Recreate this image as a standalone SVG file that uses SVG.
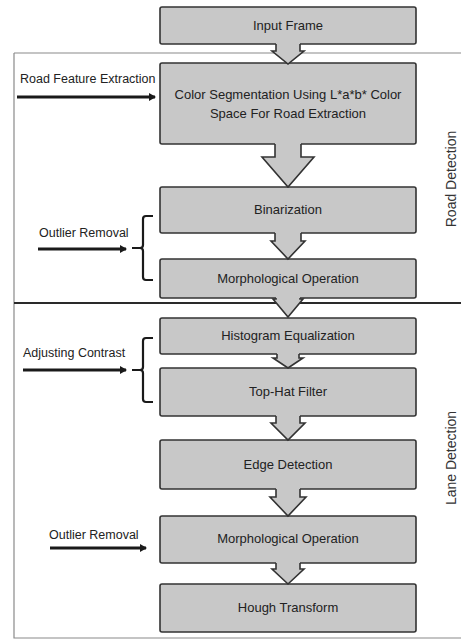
<svg xmlns="http://www.w3.org/2000/svg" width="461" height="639" viewBox="0 0 461 639">
<defs>
<marker id="ah" markerWidth="8" markerHeight="8" refX="6" refY="4" orient="auto" markerUnits="userSpaceOnUse">
<path d="M0,0 L7,4 L0,8 Z" fill="#1a1a1a"/>
</marker>
</defs>
<style>
.box{fill:#c8c8c8;stroke:#333;stroke-width:1.6}
.t{font-family:"Liberation Sans",Arial,sans-serif;font-size:13px;fill:#222;text-anchor:middle}
.lt{font-family:"Liberation Sans",Arial,sans-serif;font-size:12.5px;fill:#222}
.side{font-family:"Liberation Sans",Arial,sans-serif;font-size:14px;fill:#333;text-anchor:middle}
.arrowfill{fill:#c8c8c8;stroke:none}
.arrowline{fill:none;stroke:#333;stroke-width:1.6;stroke-linejoin:miter}
.inarrow{stroke:#1a1a1a;stroke-width:3;fill:none}
.brace{fill:none;stroke:#1a1a1a;stroke-width:2.2}
.frame{stroke:#8a8a8a;stroke-width:1.2;fill:none}
.divider{stroke:#2a2a2a;stroke-width:2.2}
</style>
<rect width="461" height="639" fill="#ffffff"/>
<g id="frame">
<path class="frame" d="M14,53 H461 M14,53 V638 H461"/>
<line class="divider" x1="14" y1="303" x2="461" y2="303"/>
</g>
<g id="n1"><rect class="box" x="160" y="7" width="256" height="37" rx="2"/><text class="t" x="288" y="30">Input Frame</text></g>
<g id="n2"><rect class="box" x="160" y="63" width="256" height="81" rx="2"/><text class="t" x="288" y="99">Color Segmentation Using L*a*b* Color</text><text class="t" x="288" y="118">Space For Road Extraction</text></g>
<g id="n3"><rect class="box" x="160" y="187" width="256" height="46" rx="2"/><text class="t" x="288" y="214">Binarization</text></g>
<g id="n4"><rect class="box" x="160" y="259" width="256" height="39" rx="2"/><text class="t" x="288" y="283">Morphological Operation</text></g>
<g id="n5"><rect class="box" x="160" y="318" width="256" height="36" rx="2"/><text class="t" x="288" y="340">Histogram Equalization</text></g>
<g id="n6"><rect class="box" x="160" y="368" width="256" height="48" rx="2"/><text class="t" x="288" y="396">Top-Hat Filter</text></g>
<g id="n7"><rect class="box" x="160" y="440" width="256" height="49" rx="2"/><text class="t" x="288" y="469">Edge Detection</text></g>
<g id="n8"><rect class="box" x="160" y="516" width="256" height="47" rx="2"/><text class="t" x="288" y="543">Morphological Operation</text></g>
<g id="n9"><rect class="box" x="160" y="584" width="256" height="48" rx="2"/><text class="t" x="288" y="612">Hough Transform</text></g>
<g id="connectors">
<path class="arrowfill" d="M276,43 V51 H272 L288,64 L304,51 H300 V43 Z"/>
<path class="arrowline" d="M276,44 V51 H272 L288,64 L304,51 H300 V44"/>
<path class="arrowfill" d="M275,143 V157 H262 L288,187 L314,157 H301 V143 Z"/>
<path class="arrowline" d="M275,144 V157 H262 L288,187 L314,157 H301 V144"/>
<path class="arrowfill" d="M275,232 V241 H271 L288,259 L305,241 H301 V232 Z"/>
<path class="arrowline" d="M275,233 V241 H271 L288,259 L305,241 H301 V233"/>
<path class="arrowfill" d="M276,297 V299 H273 L288,317 L303,299 H300 V297 Z"/>
<path class="arrowline" d="M276,298 V299 H273 L288,317 L303,299 H300 V298"/>
<path class="arrowfill" d="M277,353 V358 H273 L288,368 L303,358 H299 V353 Z"/>
<path class="arrowline" d="M277,354 V358 H273 L288,368 L303,358 H299 V354"/>
<path class="arrowfill" d="M276,415 V423 H271 L288,440 L305,423 H300 V415 Z"/>
<path class="arrowline" d="M276,416 V423 H271 L288,440 L305,423 H300 V416"/>
<path class="arrowfill" d="M276,488 V497 H270 L288,516 L306,497 H300 V488 Z"/>
<path class="arrowline" d="M276,489 V497 H270 L288,516 L306,497 H300 V489"/>
<path class="arrowfill" d="M276,562 V569 H272 L288,584 L304,569 H300 V562 Z"/>
<path class="arrowline" d="M276,563 V569 H272 L288,584 L304,569 H300 V563"/>
<line class="inarrow" x1="17" y1="97" x2="155" y2="97" marker-end="url(#ah)"/>
<line class="inarrow" x1="38" y1="249" x2="126" y2="249" marker-end="url(#ah)"/>
<line class="inarrow" x1="23" y1="370" x2="126" y2="370" marker-end="url(#ah)"/>
<line class="inarrow" x1="50" y1="548" x2="146" y2="548" marker-end="url(#ah)"/>
<path class="brace" d="M153,216 H146 Q143,216 143,219 V245 Q143,248 140,248 H132 M140,248 Q143,248 143,251 V277 Q143,280 146,280 H153"/>
<path class="brace" d="M153,338 H146 Q143,338 143,341 V367 Q143,370 140,370 H132 M140,370 Q143,370 143,373 V399 Q143,402 146,402 H153"/>
</g>
<g id="labels">
<text class="lt" x="20" y="83">Road Feature Extraction</text>
<text class="lt" x="39" y="237">Outlier Removal</text>
<text class="lt" x="23" y="357">Adjusting Contrast</text>
<text class="lt" x="49" y="539">Outlier Removal</text>
<text class="side" transform="translate(456,179) rotate(-90)">Road Detection</text>
<text class="side" transform="translate(456,458) rotate(-90)">Lane Detection</text>
</g>
</svg>
